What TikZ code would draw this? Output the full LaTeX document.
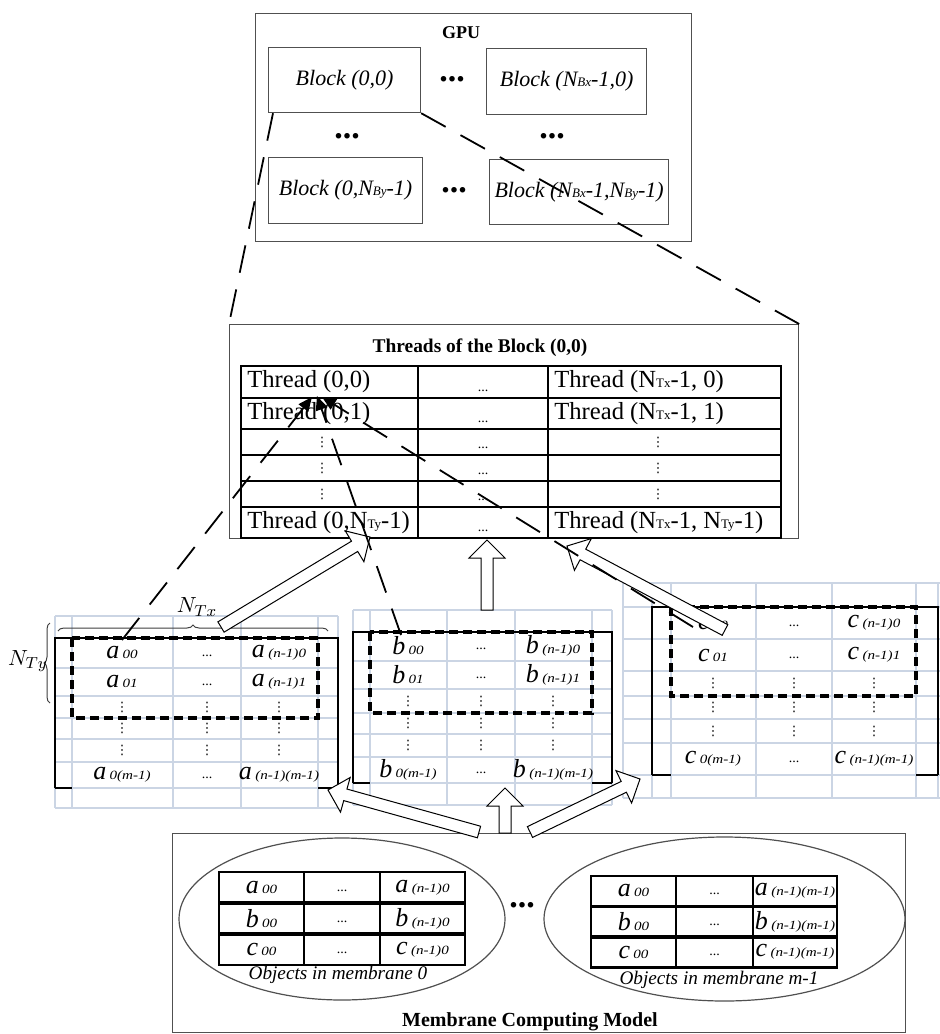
\documentclass[tikz,border=0pt]{standalone}
\usepackage{fontspec}
\setmainfont{Liberation Serif}
\newfontfamily\widef[FakeStretch=1.2]{Liberation Serif}
\newfontfamily\dejavu{DejaVu Sans}
\usetikzlibrary{calc,decorations.pathreplacing,arrows.meta,shapes.geometric}
\definecolor{gridblue}{RGB}{203,213,228}
\definecolor{edgegray}{RGB}{80,80,80}
\newcommand\sm[1]{{\fontsize{6.5}{6.5}\selectfont #1}}
\newcommand\obj[2]{{\fontsize{13}{13}\selectfont\itshape #1}\,{\widef\fontsize{6.3}{6.3}\selectfont\itshape #2}}
\newcommand\vd{{\dejavu\fontsize{6.5}{6.5}\selectfont ⋮}}
\newcommand\hd{{\fontsize{7}{7}\selectfont ...}}
\newcommand\bigdots{{\fontsize{17}{17}\selectfont\bfseries ...}}
\newcommand\thr{\fontsize{12.3}{12.3}\selectfont}
\newcommand\holarrow[3]{% #1 start, #2 tip, #3 name
  \coordinate (#3c) at ($(#2)!9pt!(#1)$);
  \draw[hol] ($(#1)!3pt!90:(#2)$) -- ($(#3c)!3pt!-90:(#1)$) -- ($(#3c)!9pt!-90:(#1)$) -- (#2)
    -- ($(#3c)!9pt!90:(#1)$) -- ($(#3c)!3pt!90:(#1)$) -- ($(#1)!3pt!-90:(#2)$) -- cycle;
}
\newcommand\gridcells[8]{% #1 letter; #2 #3 #4 column x; #5 y1; #6 y2; #7 {y3,y4,y5}; #8 y6
  \node[txt] (#1r1c1) at (#2,#5) {\obj{#1}{00}};
  \node[txt] (#1r1c2) at (#3,#5+3) {\hd};
  \node[txt] (#1r1c3) at (#4,#5) {\obj{#1}{(n-1)0}};
  \node[txt] (#1r2c1) at (#2,#6) {\obj{#1}{01}};
  \node[txt] (#1r2c2) at (#3,#6+3) {\hd};
  \node[txt] (#1r2c3) at (#4,#6) {\obj{#1}{(n-1)1}};
  \foreach \yy [count=\k] in {#7} {
    \node[txt] (#1d\k-1) at (#2,\yy) {\vd};
    \node[txt] (#1d\k-2) at (#3,\yy) {\vd};
    \node[txt] (#1d\k-3) at (#4,\yy) {\vd};
  }
  \node[txt] (#1r6c1) at (#2,#8) {\obj{#1}{0(m-1)}};
  \node[txt] (#1r6c2) at (#3,#8+3) {\hd};
  \node[txt] (#1r6c3) at (#4,#8) {\obj{#1}{(n-1)(m-1)}};
}
\begin{document}
\begin{tikzpicture}[x=0.5pt,y=-0.5pt,
 txt/.style={inner sep=0pt},
 thinbox/.style={draw=edgegray, line width=0.6pt},
 blkbox/.style={thinbox, anchor=north west, inner sep=0pt, font=\itshape\fontsize{11}{12}\selectfont},
 tline/.style={line width=1.3pt},
 gline/.style={draw=gridblue, line width=0.8pt},
 frm/.style={line width=1.3pt},
 dbox/.style={line width=1.6pt, dash pattern=on 4.5pt off 2.5pt},
 ldash/.style={line width=0.9pt, dash pattern=on 14pt off 8.5pt},
 ldarrow/.style={ldash, -{Triangle[length=7pt,width=6pt]}},
 hol/.style={draw=black, line width=0.5pt, fill=white},
 brc/.style={draw=black!75, line width=0.5pt, decorate, decoration={brace, amplitude=3pt}},
 mtab/.style={line width=1.1pt},
 mtabmid/.style={line width=1.9pt},
]
\useasboundingbox (0,0) rectangle (940,1034);
\fill[white] (0,0) rectangle (940,1034);

% ---------------- GPU ----------------
\node[thinbox, anchor=north west, minimum width=218pt, minimum height=114pt, inner sep=0pt] (gpu) at (255,13) {};
\node[txt, font=\bfseries\fontsize{9}{10}\selectfont] (gputitle) at (461,33) {GPU};
\node[blkbox, minimum width=76pt, minimum height=32.5pt] (blk00) at (268,47) {Block (0,0)};
\node[blkbox, minimum width=80pt, minimum height=33pt] (blkx0) at (486,48) {Block (N\sm{Bx}-1,0)};
\node[blkbox, minimum width=77pt, minimum height=33pt] (blk0y) at (268,157) {Block (0,N\sm{By}-1)};
\node[blkbox, minimum width=89.5pt, minimum height=32.5pt] (blkxy) at (489,159) {Block (N\sm{Bx}-1,N\sm{By}-1)};
\node[txt] (gd1) at (452,79) {\bigdots};
\node[txt] (gd2) at (347,136) {\bigdots};
\node[txt] (gd3) at (552,136) {\bigdots};
\node[txt] (gd4) at (454,190) {\bigdots};

% ---------------- Threads ----------------
\node[thinbox, anchor=north west, minimum width=284.5pt, minimum height=107pt, inner sep=0pt] (thr) at (229,324) {};
\node[txt, font=\bfseries\fontsize{9.7}{10}\selectfont] (thrtitle) at (480,348) {Threads of the Block (0,0)};
\draw[tline] (241,366) rectangle (781,538);
\foreach \yy in {398,429,455,481,507} \draw[tline] (241,\yy) -- (781,\yy);
\foreach \xx in {418,548} \draw[tline] (\xx,366) -- (\xx,538);
\node[txt, anchor=west] (t11) at (247,382) {\thr Thread (0,0)};
\node[txt, anchor=west] (t21) at (247,413.5) {\thr Thread (0,1)};
\node[txt] (t31) at (322,442) {\vd};
\node[txt] (t41) at (322,468) {\vd};
\node[txt] (t51) at (322,494) {\vd};
\node[txt, anchor=west] (t61) at (247,522.5) {\thr Thread (0,N\sm{Ty}-1)};
\foreach \yy [count=\k] in {391,422,448,474,500,531} \node[txt] (tm\k) at (483,\yy) {\hd};
\node[txt, anchor=west] (t13) at (554,382) {\thr Thread (N\sm{Tx}-1, 0)};
\node[txt, anchor=west] (t23) at (554,413.5) {\thr Thread (N\sm{Tx}-1, 1)};
\node[txt] (t33) at (658,442) {\vd};
\node[txt] (t43) at (658,468) {\vd};
\node[txt] (t53) at (658,494) {\vd};
\node[txt, anchor=west] (t63) at (554,522.5) {\thr Thread (N\sm{Tx}-1, N\sm{Ty}-1)};

\coordinate (gl1) at ($(blk00.south west)+(5,0)$);
\draw[ldash] (gl1) -- (thr.north west);
\draw[ldash] (blk00.south east) -- (thr.north east);

% ---------------- grid a ----------------
\foreach \xx in {55,72,173,241,318,338} \draw[gline] (\xx,616) -- (\xx,808);
\foreach \yy in {616,638,668,696,718,739,762,788,808} \draw[gline] (55,\yy) -- (338,\yy);
\draw[frm] (55,788) -- (55,638) -- (338,638) -- (338,788);
\draw[frm] (55,788) -- (72,788) (318,788) -- (338,788);
\draw[dbox] (72,638) rectangle (318,718);
\gridcells{a}{122}{207}{279}{653}{682}{707,728,750}{775}
\draw[brc] (58,631) -- (328,631);
\node[txt, font=\fontsize{11}{11}\selectfont] (ntx) at (197,607) {$N_{Tx}$};
\draw[brc] (50,703) -- (50,623);
\node[txt, font=\fontsize{11}{11}\selectfont] (nty) at (28,661) {$N_{Ty}$};

% ---------------- grid b ----------------
\foreach \xx in {353,370,447,515,592,612} \draw[gline] (\xx,610) -- (\xx,805);
\foreach \yy in {610,632,661,689,713,734,757,783,805} \draw[gline] (353,\yy) -- (612,\yy);
\draw[frm] (353,783) -- (353,632) -- (612,632) -- (612,783);
\draw[frm] (353,783) -- (370,783) (592,783) -- (612,783);
\draw[dbox] (370,632) rectangle (592,713);
\gridcells{b}{408}{481}{553}{646}{675}{701,723,745}{770}

% ---------------- grid c ----------------
\foreach \xx in {623,652,671,756,832,916,938} \draw[gline] (\xx,583) -- (\xx,798);
\foreach \yy in {583,607,639,671,696,719,743,775,798} \draw[gline] (623,\yy) -- (940,\yy);
\draw[frm] (652,775) -- (652,607) -- (938,607) -- (938,775);
\draw[frm] (652,775) -- (671,775) (916,775) -- (938,775);
\draw[dbox] (671,607) rectangle (916,696);
\gridcells{c}{713}{794}{874}{623}{655}{683,707,731}{759}

% ---------------- model ----------------
\node[thinbox, anchor=north west, minimum width=366.5pt, minimum height=99.5pt, inner sep=0pt] (model) at (172,833) {};
\node[thinbox, ellipse, minimum width=163pt, minimum height=81pt, inner sep=0pt] (ell0) at (342,919) {};
\node[thinbox, ellipse, minimum width=180.5pt, minimum height=82pt, inner sep=0pt] (ell1) at (724.5,919) {};
\node[txt] (mdots) at (522,905) {\bigdots};
% left table
\draw[mtab] (219,872) rectangle (465,965);
\foreach \xx in {304,380} \draw[mtab] (\xx,872) -- (\xx,965);
\foreach \yy in {903,934} \draw[mtabmid] (219,\yy) -- (465,\yy);
\foreach \L/\yy in {a/887.5,b/918.5,c/949.5} {
  \node[txt] (m0\L1) at (261.5,\yy) {\obj{\L}{00}};
  \node[txt] (m0\L2) at (342,\yy+3) {\hd};
  \node[txt] (m0\L3) at (422.5,\yy) {\obj{\L}{(n-1)0}};
}
\node[txt, font=\itshape\fontsize{9.6}{10}\selectfont] (lab0) at (338,975) {Objects in membrane 0};
% right table
\draw[mtab] (591,876) rectangle (837,967.5);
\foreach \xx in {676,753} \draw[mtab] (\xx,876) -- (\xx,967.5);
\foreach \yy in {906.5,937} \draw[mtabmid] (591,\yy) -- (837,\yy);
\foreach \L/\yy in {a/891,b/921.5,c/952} {
  \node[txt] (m1\L1) at (633.5,\yy) {\obj{\L}{00}};
  \node[txt] (m1\L2) at (714.5,\yy+3) {\hd};
  \node[txt] (m1\L3) at (795,\yy) {\obj{\L}{(n-1)(m-1)}};
}
\node[txt, font=\itshape\fontsize{9.6}{10}\selectfont] (lab1) at (719,980) {Objects in membrane m-1};
\node[txt, font=\bfseries\fontsize{10}{11}\selectfont] (modeltitle) at (530,1022) {Membrane Computing Model};

% ---------------- hollow arrows ----------------
\coordinate (hA1) at (479,832); \coordinate (hA2) at (328,790);
\coordinate (hB1) at (505,833); \coordinate (hB2) at (505,788);
\coordinate (hC1) at (530,832); \coordinate (hC2) at (640,779);
\coordinate (hD1) at (221,627); \coordinate (hD2) at (370,537);
\coordinate (hE1) at (487,610); \coordinate (hE2) at (487,540);
\coordinate (hF1) at (725,630); \coordinate (hF2) at (567,546);
\holarrow{hA1}{hA2}{hA}
\holarrow{hB1}{hB2}{hB}
\holarrow{hC1}{hC2}{hC}
\holarrow{hD1}{hD2}{hD}
\holarrow{hE1}{hE2}{hE}
\holarrow{hF1}{hF2}{hF}

% ---------------- dashed mapping arrows ----------------
\coordinate (tgtA) at (312,397);
\coordinate (tgtB) at (317,396);
\coordinate (tgtC) at (322,397);
\coordinate (srcA) at (122,640);
\coordinate (srcB) at (401,635);
\coordinate (srcC) at (693,627);
\draw[ldarrow] (srcA) -- (tgtA);
\draw[ldarrow] (srcB) -- (tgtB);
\draw[ldarrow] (srcC) -- (tgtC);
\end{tikzpicture}
\end{document}
